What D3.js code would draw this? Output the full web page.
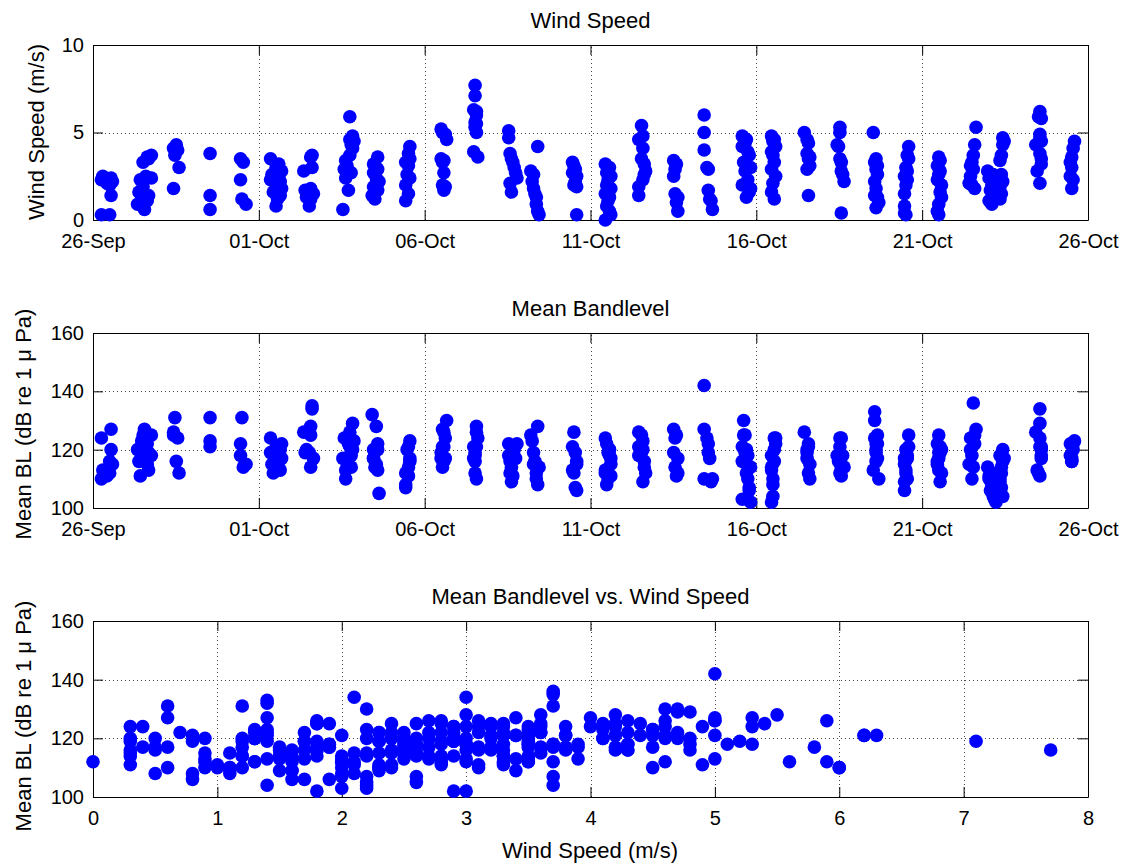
<!DOCTYPE html>
<html lang="en">
<head>
<meta charset="utf-8">
<title>Wind speed and mean bandlevel</title>
<script src="https://cdn.jsdelivr.net/npm/d3@7"></script>
<style>
body { margin: 0; background: #fff; }
svg text { font-family: "Liberation Sans", Arial, Helvetica, sans-serif; fill: #000; }
</style>
</head>
<body>
<div id="chart"></div>
<script>
// observation clusters: centre of each sampling block, days after 26-Sep 00:00
var startDate = "2006-09-26";
var obsDays = [0.42, 1.51, 2.47, 3.53, 4.49, 5.52, 6.48, 7.66, 8.50, 9.47,
               10.58, 11.52, 12.95, 14.50, 15.53, 16.58, 17.55, 18.51, 19.66, 20.50,
               21.53, 22.52, 23.61, 24.51, 25.50, 26.50, 27.10, 27.43, 28.55, 29.51];

// hour offset of each sample from its block centre
var obsHours = [
    [-3, 3, -4, 4, 0, 2, 3, -4, 2],
    [6, 3, 4, 0, 2, 6, -2, 0, -3, 4, -1, 3, -4, 1],
    [1, -1, 2, 0, 3, -1],
    [0, 0, 0],
    [-1, 1, -1, 0, 3],
    [-4, 2, 0, 4, -3, 2, -4, 3, 0, 4, -2, 3, 1, 0],
    [3, 2, 3, -3, 2, -2, 4, -1, 2, 1],
    [2, 4, 2, 5, 3, 4, 2, -1, 0, -2, 3, -1, 1, -3],
    [2, -1, 1, 2, -1, 1, 3, -1, 2, -2, 0],
    [2, 1, 2, -1, 1, 0, 2, -1, 1, -1],
    [-2, -1, 1, 2, -2, 0, -1, 0, -1, 1, 0],
    [0, 0, -1, 1, 1, 0, 1, 0, 1, -1, 2],
    [-10, -10, -9, -8, -7, -6, -5, -9, -8, -4, 6, 11, 7, 8, 9, 10, 10, 11, 12, 8],
    [-1, 0, 1, -1, 2, 1, 0, 2, 2],
    [-2, 1, -1, 2, 0, -1, 2, -2, 1, 0, -1, 1, 2, -2],
    [-1, 0, -3, 0, -1, 1, 2, 1, 0, -3, -3],
    [-1, 1, 0, -1, 0, 2, 1, 2],
    [-2, -2, -2, 0, 1, 1, 2, 3, 4],
    [-2, -1, 1, 0, -2, 2, 3, -1, 4, 0, 2, -2, 4, 3, 1],
    [-1, 1, 0, 2, -1, 0, 1, -1, 2, 0, -1, 1],
    [-2, 0, 1, 0, 2, 1, 2, 0, 1],
    [0, 0, -2, -1, 0, 1, 1, 2, 3, 1],
    [-2, 0, -1, 1, 0, 1, -1, 0, -1, 1, 2, 0],
    [2, 1, 2, 0, 1, -1, 1, 0, -1, -1, -1, 0],
    [0, 1, -1, 1, 0, -1, 2, 1, 2, 0, -1, 0],
    [3, 2, 1, 0, -1, 1, -1, -2, 0, 2],
    [-3, 1, -2, 2, 0, 3, -1, 1, -2, 0],
    [0, 1, 0, -1, -2, -1, 0, -2, -1, -2],
    [0, -1, 1, 0, 0, 1, -3, 0, 1, 1, -2, 0],
    [2, 1, 0, -1, 0, -1, 1, 0]
];

// wind speed (m/s)
var windSpeed = [
    [2.5, 2.4, 2.3, 2.2, 2.1, 2.0, 1.4, 0.3, 0.3],
    [3.7, 3.6, 3.5, 3.3, 2.5, 2.4, 2.3, 1.9, 1.6, 1.4, 1.3, 1.1, 0.9, 0.6],
    [4.3, 4.1, 4.0, 3.7, 3.0, 1.8],
    [3.8, 1.4, 0.6],
    [3.5, 3.3, 2.3, 1.2, 0.9],
    [3.5, 3.2, 3.0, 2.8, 2.6, 2.5, 2.3, 2.2, 2.0, 1.8, 1.6, 1.4, 1.2, 0.8],
    [3.7, 3.6, 3.0, 2.8, 1.8, 1.7, 1.5, 1.3, 1.2, 0.8],
    [5.9, 4.8, 4.6, 4.5, 4.3, 4.1, 3.7, 3.4, 3.1, 2.9, 2.7, 2.4, 1.7, 0.6],
    [3.6, 3.2, 3.0, 2.9, 2.7, 2.4, 2.2, 1.9, 1.7, 1.4, 1.2],
    [4.2, 3.8, 3.5, 3.3, 3.1, 2.6, 2.4, 2.0, 1.5, 1.1],
    [5.2, 5.0, 4.9, 4.6, 3.5, 3.4, 3.3, 2.7, 2.0, 1.9, 1.7],
    [7.7, 7.1, 6.3, 6.2, 6.0, 5.6, 5.5, 5.3, 5.0, 3.9, 3.6],
    [5.1, 4.7, 3.8, 3.5, 3.3, 3.0, 2.7, 2.1, 1.6, 2.4, 2.8, 4.2, 2.2, 1.8, 1.5, 1.3, 0.9, 0.5, 0.3, 2.6],
    [3.3, 3.1, 2.9, 2.7, 2.5, 2.2, 2.0, 1.9, 0.3],
    [3.2, 3.0, 2.7, 2.5, 2.3, 2.0, 1.8, 1.5, 1.3, 1.1, 0.8, 0.5, 0.3, 0.0],
    [5.4, 4.8, 4.6, 4.1, 3.5, 3.2, 2.8, 2.6, 2.3, 1.9, 1.4],
    [3.4, 3.2, 2.9, 2.5, 1.5, 1.3, 1.0, 0.5],
    [6.0, 5.0, 4.0, 3.0, 2.9, 1.7, 1.2, 1.1, 0.6],
    [4.8, 4.7, 4.6, 4.4, 4.2, 3.9, 3.7, 3.3, 3.0, 2.8, 2.3, 2.0, 1.8, 1.6, 1.3],
    [4.8, 4.6, 4.5, 4.2, 3.9, 3.7, 3.3, 2.9, 2.5, 2.1, 1.6, 1.2],
    [5.0, 4.6, 4.4, 3.8, 3.6, 3.5, 3.1, 2.9, 1.4],
    [5.3, 5.0, 4.3, 4.2, 3.5, 3.3, 2.8, 2.6, 2.2, 0.4],
    [5.0, 3.5, 3.3, 3.1, 2.9, 2.6, 2.2, 1.8, 1.4, 1.3, 1.0, 0.7],
    [4.2, 3.7, 3.5, 3.0, 2.8, 2.5, 2.3, 2.0, 1.5, 0.8, 0.4, 0.3],
    [3.6, 3.4, 3.1, 2.8, 2.6, 2.3, 2.0, 1.6, 1.3, 0.9, 0.5, 0.3],
    [5.3, 4.3, 3.7, 3.3, 3.1, 2.9, 2.5, 2.1, 2.0, 1.8],
    [2.8, 2.6, 2.4, 2.2, 2.0, 1.8, 1.7, 1.4, 1.1, 0.9],
    [4.7, 4.5, 4.3, 3.7, 3.4, 2.6, 2.2, 1.9, 1.5, 1.2],
    [6.2, 5.9, 5.8, 4.9, 4.7, 4.5, 4.3, 3.8, 3.5, 3.2, 2.8, 2.1],
    [4.5, 4.1, 3.6, 3.3, 3.0, 2.5, 2.3, 1.8]
];

// mean bandlevel (dB re 1 uPa), same samples as windSpeed
var bandLevel = [
    [113, 120, 110, 115, 111, 112, 127, 124, 116],
    [118, 122, 113, 121, 117, 125, 111, 125, 116, 119, 123, 115, 120, 127],
    [116, 125, 124, 131, 112, 126],
    [121, 123, 131],
    [118, 114, 122, 131, 115],
    [124, 121, 118, 122, 115, 116, 119, 120, 114, 117, 112, 113, 119, 121],
    [135, 128, 134, 126, 125, 119, 117, 120, 114, 119],
    [126, 129, 121, 123, 118, 120, 118, 113, 116, 124, 114, 110, 122, 117],
    [122, 117, 128, 120, 120, 115, 105, 117, 113, 132, 114],
    [117, 121, 123, 112, 111, 120, 116, 107, 114, 108],
    [119, 127, 124, 130, 117, 121, 114, 126, 121, 117, 116],
    [116, 119, 121, 121, 110, 112, 128, 118, 126, 117, 124],
    [118, 122, 116, 114, 111, 120, 117, 112, 109, 122, 125, 128, 123, 119, 116, 112, 110, 108, 114, 115],
    [121, 126, 119, 113, 116, 107, 112, 106, 115],
    [124, 118, 122, 115, 119, 113, 117, 113, 120, 110, 108, 120, 111, 112],
    [125, 120, 126, 123, 119, 116, 112, 114, 109, 118, 121],
    [127, 125, 124, 119, 114, 112, 111, 117],
    [110, 142, 127, 124, 122, 119, 117, 109, 110],
    [116, 130, 112, 125, 121, 118, 107, 125, 102, 119, 110, 103, 114, 106, 120],
    [118, 124, 110, 124, 113, 104, 116, 102, 122, 108, 114, 120],
    [126, 120, 121, 117, 115, 112, 110, 119, 122],
    [124, 121, 118, 116, 112, 114, 111, 118, 114, 124],
    [113, 120, 124, 117, 119, 125, 130, 116, 133, 122, 110, 122],
    [125, 117, 121, 113, 118, 115, 110, 112, 109, 106, 117, 120],
    [125, 121, 122, 119, 117, 115, 112, 109, 120, 113, 116, 119],
    [127, 122, 136, 118, 124, 114, 120, 115, 110, 125],
    [114, 105, 111, 103, 108, 102, 106, 104, 110, 112],
    [120, 117, 116, 112, 109, 107, 104, 118, 114, 110],
    [121, 112, 117, 111, 129, 121, 126, 124, 118, 120, 113, 134],
    [123, 120, 117, 122, 116, 118, 122, 116]
];

var dateTicks = ["2006-09-26", "2006-10-01", "2006-10-06", "2006-10-11", "2006-10-16", "2006-10-21", "2006-10-26"];
var windTicks = [0, 5, 10];
var levelTicks = [100, 120, 140, 160];
var speedTicks = [0, 1, 2, 3, 4, 5, 6, 7, 8];

var width = 1127, height = 866;
var tickFont = 20, labelFont = 22;

var svg = d3.select("#chart").append("svg")
    .attr("width", width)
    .attr("height", height);

var parseDay = d3.utcParse("%Y-%m-%d");
var t0 = parseDay(startDate);

var points = [];
obsDays.forEach(function(d, i) {
    windSpeed[i].forEach(function(w, j) {
        points.push({
            t: new Date(+t0 + d * 864e5 + obsHours[i][j] * 36e5),
            w: w,
            bl: bandLevel[i][j]
        });
    });
});

var dates = dateTicks.map(parseDay);

var xTime = d3.scaleUtc().domain([dates[0], dates[dates.length - 1]]).range([93, 1088]);
var yWind = d3.scaleLinear().domain([0, 10]).range([220, 45]);
var yLevel1 = d3.scaleLinear().domain([100, 160]).range([508, 333]);
var xSpeed = d3.scaleLinear().domain([0, 8]).range([93, 1088]);
var yLevel2 = d3.scaleLinear().domain([100, 160]).range([797, 621]);

function drawPanel(x, y, xTicks, yTicks, xFormat, title) {
    var g = svg.append("g");
    var xr = x.range(), yr = y.range();

    // dotted grid
    g.append("g").selectAll("line")
        .data(xTicks.slice(1, -1))
        .enter().append("line")
        .attr("x1", function(d) { return Math.round(x(d)) + 0.5; })
        .attr("x2", function(d) { return Math.round(x(d)) + 0.5; })
        .attr("y1", yr[0]).attr("y2", yr[1])
        .attr("stroke", "#444").attr("stroke-dasharray", "1,3");
    g.append("g").selectAll("line")
        .data(yTicks.slice(1, -1))
        .enter().append("line")
        .attr("y1", function(d) { return Math.round(y(d)) + 0.5; })
        .attr("y2", function(d) { return Math.round(y(d)) + 0.5; })
        .attr("x1", xr[0]).attr("x2", xr[1])
        .attr("stroke", "#444").attr("stroke-dasharray", "1,3");

    // axes, ticks pointing inward, box on
    g.append("g")
        .attr("transform", "translate(0," + yr[0] + ")")
        .call(d3.axisBottom(x).tickValues(xTicks).tickFormat(xFormat)
            .tickSize(-10).tickSizeOuter(0).tickPadding(14));
    g.append("g")
        .attr("transform", "translate(0," + yr[1] + ")")
        .call(d3.axisTop(x).tickValues(xTicks).tickFormat("")
            .tickSize(-10).tickSizeOuter(0));
    g.append("g")
        .attr("transform", "translate(" + xr[0] + ",0)")
        .call(d3.axisLeft(y).tickValues(yTicks)
            .tickSize(-10).tickSizeOuter(0).tickPadding(9));
    g.append("g")
        .attr("transform", "translate(" + xr[1] + ",0)")
        .call(d3.axisRight(y).tickValues(yTicks).tickFormat("")
            .tickSize(-10).tickSizeOuter(0));

    g.selectAll(".tick text").attr("font-size", tickFont).attr("font-family", null);
    g.selectAll(".domain, .tick line").attr("stroke", "#000");

    svg.append("text")
        .attr("x", (xr[0] + xr[1]) / 2)
        .attr("y", yr[1] - 17)
        .attr("text-anchor", "middle")
        .attr("font-size", labelFont)
        .text(title);

    return g;
}

function drawDots(g, cx, cy) {
    g.append("g").selectAll("circle")
        .data(points)
        .enter().append("circle")
        .attr("cx", cx)
        .attr("cy", cy)
        .attr("r", 6.8)
        .attr("fill", "#0000ff");
}

var fmtDate = d3.utcFormat("%d-%b");

var p1 = drawPanel(xTime, yWind, dates, windTicks, fmtDate, "Wind Speed");
drawDots(p1, function(d) { return xTime(d.t); }, function(d) { return yWind(d.w); });

var p2 = drawPanel(xTime, yLevel1, dates, levelTicks, fmtDate, "Mean Bandlevel");
drawDots(p2, function(d) { return xTime(d.t); }, function(d) { return yLevel1(d.bl); });

var p3 = drawPanel(xSpeed, yLevel2, speedTicks, levelTicks, d3.format("d"), "Mean Bandlevel vs. Wind Speed");
drawDots(p3, function(d) { return xSpeed(d.w); }, function(d) { return yLevel2(d.bl); });

// axis labels
svg.append("text")
    .attr("transform", "translate(44,132) rotate(-90)")
    .attr("text-anchor", "middle")
    .attr("font-size", labelFont)
    .text("Wind Speed (m/s)");

svg.append("text")
    .attr("transform", "translate(31,424) rotate(-90)")
    .attr("text-anchor", "middle")
    .attr("font-size", labelFont)
    .text("Mean BL (dB re 1 \u03bc Pa)");

svg.append("text")
    .attr("transform", "translate(31,716) rotate(-90)")
    .attr("text-anchor", "middle")
    .attr("font-size", labelFont)
    .text("Mean BL (dB re 1 \u03bc Pa)");

svg.append("text")
    .attr("x", 590)
    .attr("y", 858)
    .attr("text-anchor", "middle")
    .attr("font-size", labelFont)
    .text("Wind Speed (m/s)");
</script>
</body>
</html>
